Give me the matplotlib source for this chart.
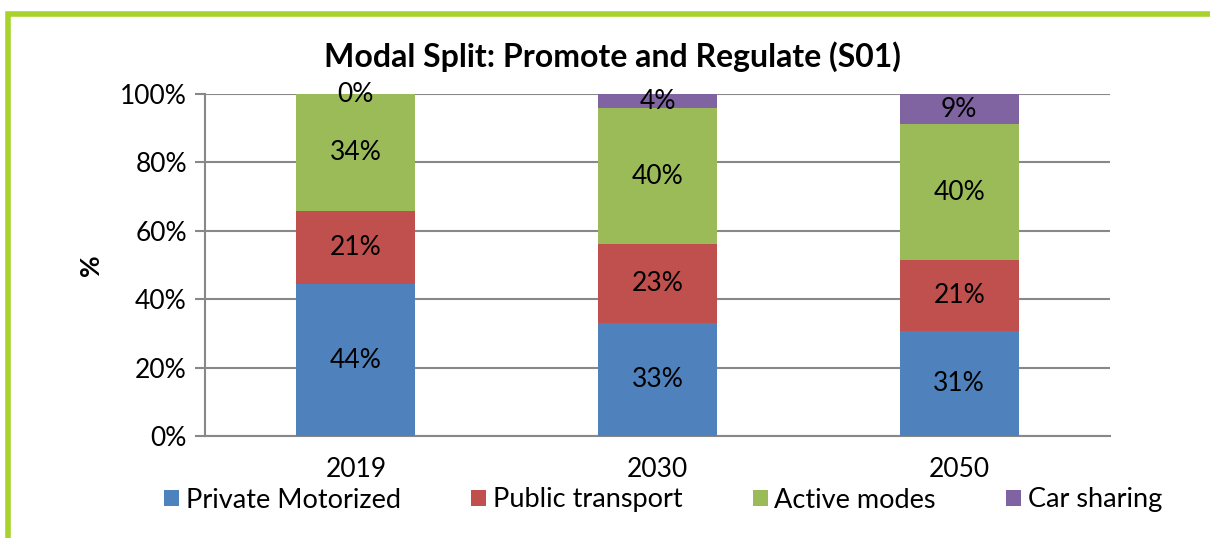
import matplotlib
matplotlib.use("Agg")
import matplotlib.pyplot as plt
from matplotlib.patches import Rectangle
import numpy as np

plt.rcParams["font.family"] = ["Lato", "DejaVu Sans"]

# ── Datos ────────────────────────────────────────────────────────────────────
years = ["2019", "2030", "2050"]
series = ["Private Motorized", "Public transport", "Active modes", "Car sharing"]
private_motorized = [44.4, 33.0, 30.8]
public_transport = [21.3, 23.1, 20.6]
active_modes = [34.3, 39.8, 39.8]
car_sharing = [0.0, 4.1, 8.8]
colors = ["#4f81bd", "#c0504d", "#9bbb59", "#8064a2"]

values = [private_motorized, public_transport, active_modes, car_sharing]

fig = plt.figure(figsize=(12.1, 5.38), dpi=100)
fig.patch.set_facecolor("white")

# marco verde
fig.patches.append(Rectangle((8 / 1210, -0.2), 1.2, 0.2 + (1 - 14 / 538),
                             transform=fig.transFigure, fill=False,
                             edgecolor="#a8d22c", linewidth=4, zorder=0))

ax = fig.add_axes([205 / 1210, 1 - 436 / 538, 905 / 1210, 342 / 538])
x = np.arange(len(years))
bottom = np.zeros(len(years))
for name, vals, c in zip(series, values, colors):
    vals = np.array(vals)
    ax.bar(x, vals, 0.395, bottom=bottom, color=c, label=name, zorder=3,
           edgecolor="none")
    for xi, b, v in zip(x, bottom, vals):
        ax.text(xi, b + v / 2, f"{v:.0f}%", ha="center", va="center",
                fontsize=19, color="black", zorder=4)
    bottom += vals

ax.set_xlim(-0.5, 2.5)
ax.set_ylim(0, 100)
ax.set_yticks(np.arange(0, 101, 20))
ax.set_yticklabels([f"{t}%" for t in range(0, 101, 20)])
ax.set_xticks(x)
ax.set_xticklabels(years)
ax.tick_params(axis="y", labelsize=19, length=7, width=1.5, color="#888888", pad=6)
ax.tick_params(axis="x", labelsize=19, length=0, pad=15)
ax.grid(axis="y", color="#888888", linewidth=1.5, zorder=1)
for s in ["top", "right"]:
    ax.spines[s].set_visible(False)
for s in ["left", "bottom"]:
    ax.spines[s].set_color("#888888")
    ax.spines[s].set_linewidth(1.5)
ax.set_ylabel("%", fontsize=19, fontweight="bold", labelpad=12)

fig.text(612 / 1210, 1 - 57 / 538, "Modal Split: Promote and Regulate (S01)",
         ha="center", va="center", fontsize=23, fontweight="bold")

fig.legend(loc="center", bbox_to_anchor=(663 / 1210, 1 - 500 / 538), ncol=4,
           frameon=False, fontsize=19.5, handlelength=0.55, handleheight=0.55,
           handletextpad=0.25, columnspacing=2.6, borderpad=0.1)

plt.savefig("out.png", dpi=100, facecolor="white")
